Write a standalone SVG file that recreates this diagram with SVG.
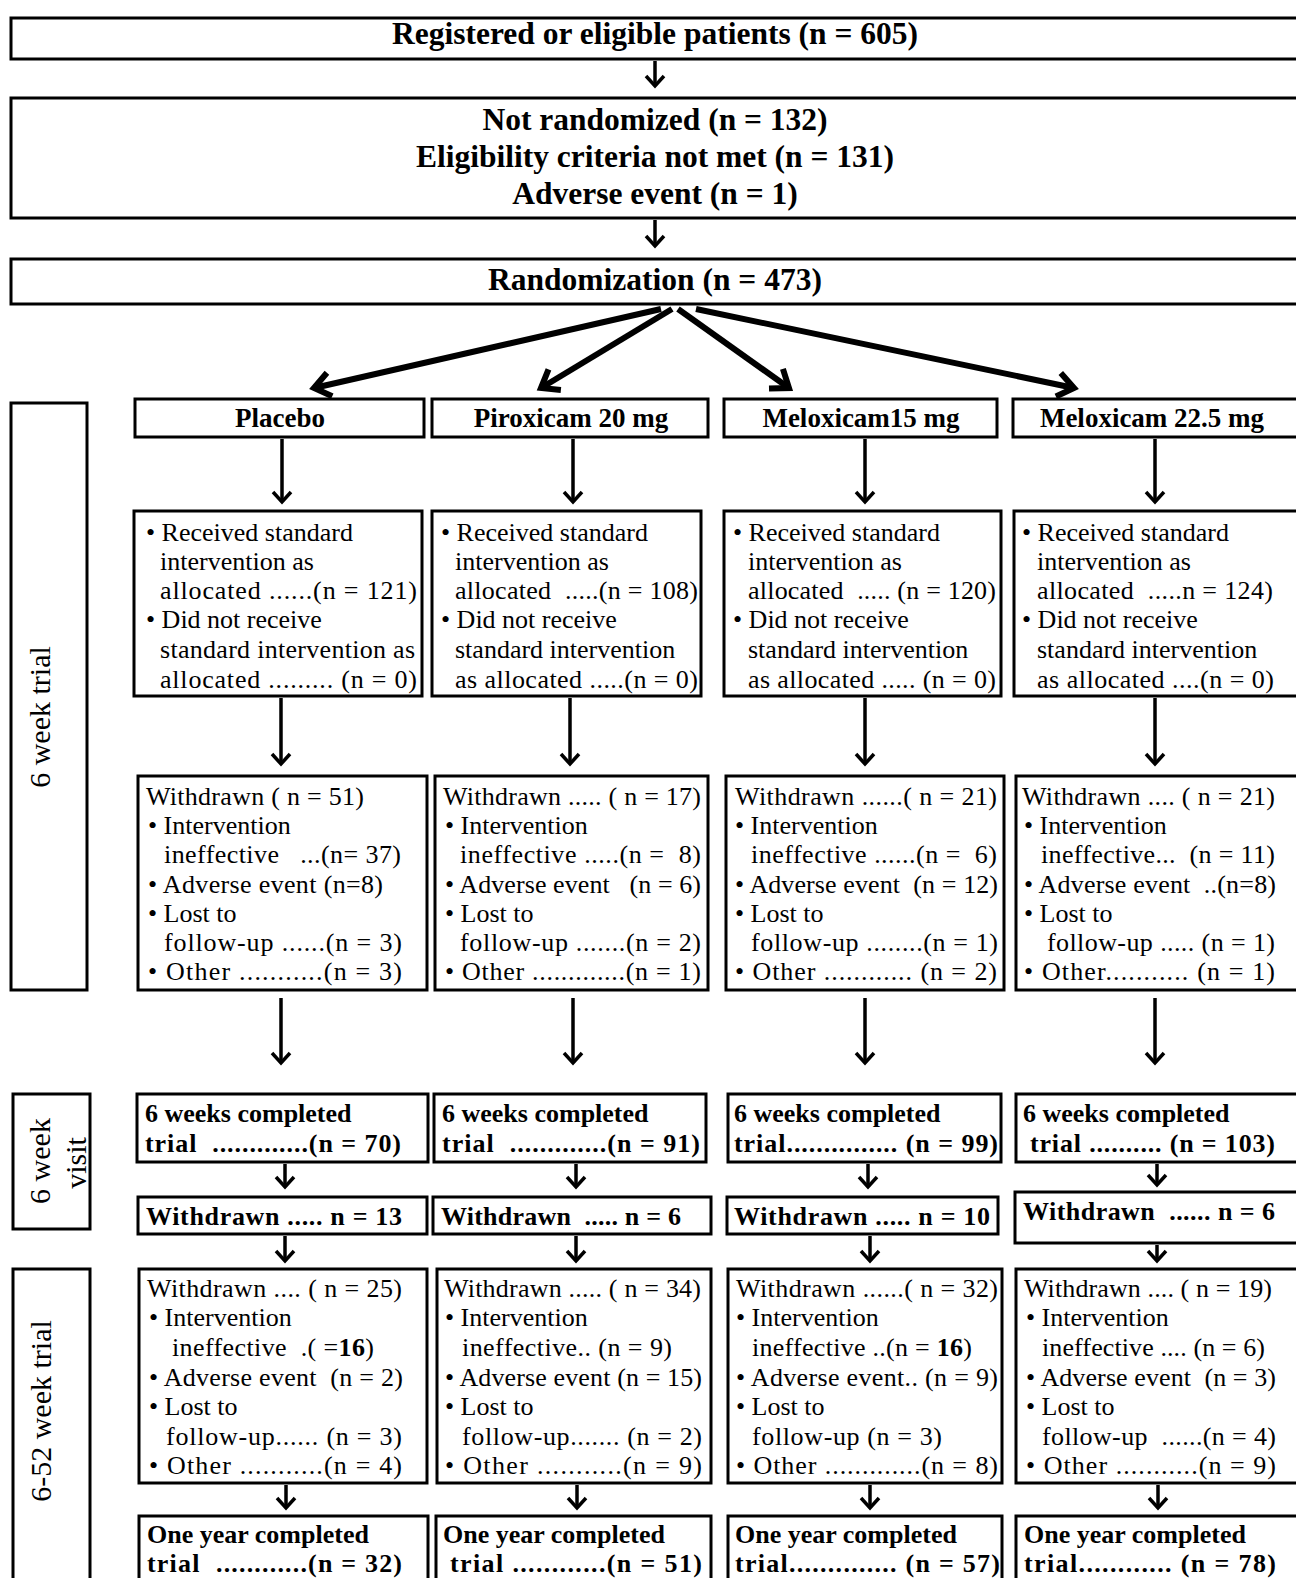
<svg xmlns="http://www.w3.org/2000/svg" width="1296" height="1578" viewBox="0 0 1296 1578">
<style>
.b{fill:#fff;stroke:#000;stroke-width:3}
text{font-family:"Liberation Serif","Times New Roman",serif;fill:#000;white-space:pre}
.r{font-size:26px}
.h{font-size:26px;font-weight:bold}
.hd{font-size:27px;font-weight:bold;text-anchor:middle}
.big{font-size:31.5px;font-weight:bold;text-anchor:middle}
.lab{font-size:30px;text-anchor:middle}
.c{stroke:#000;stroke-width:3.5;fill:none}
.f{stroke:#000;stroke-width:6;fill:none}
</style>
<defs>
<marker id="ah" markerUnits="userSpaceOnUse" viewBox="-14 -12 18 24" markerWidth="18" markerHeight="24" refX="0" refY="0" orient="auto" overflow="visible">
<path d="M-10,-9 L0,0 L-10,9" fill="none" stroke="#000" stroke-width="3.5"/>
</marker>
<marker id="ahb" markerUnits="userSpaceOnUse" viewBox="-20 -16 26 32" markerWidth="26" markerHeight="32" refX="0" refY="0" orient="auto" overflow="visible">
<path d="M-16,-12 L0,0 L-16,12" fill="none" stroke="#000" stroke-width="6"/>
</marker>
</defs>
<rect width="1296" height="1578" fill="#fff"/>

<g id="n-registered">
<rect class="b" x="11" y="18" width="1300" height="41"/>
<text class="big" x="655" y="44">Registered or eligible patients (n = 605)</text>
</g>
<g id="n-notrandomized">
<rect class="b" x="11" y="98" width="1300" height="120"/>
<text class="big" x="655" y="130">Not randomized (n = 132)</text>
<text class="big" x="655" y="167">Eligibility criteria not met (n = 131)</text>
<text class="big" x="655" y="204">Adverse event (n = 1)</text>
</g>
<g id="n-randomization">
<rect class="b" x="11" y="259" width="1300" height="45"/>
<text class="big" x="655" y="290">Randomization (n = 473)</text>
</g>

<g id="label-6wk-trial">
<rect class="b" x="11" y="403" width="76" height="587"/>
<text class="lab" transform="translate(50,717) rotate(-90)">6 week trial</text>
</g>
<g id="label-6wk-visit">
<rect class="b" x="13" y="1094" width="77" height="135"/>
<text class="lab" transform="translate(50,1161) rotate(-90)">6 week</text>
<text class="lab" transform="translate(86,1163) rotate(-90)">visit</text>
</g>
<g id="label-6-52wk-trial">
<rect class="b" x="13" y="1269" width="77" height="330"/>
<text class="lab" transform="translate(51,1411) rotate(-90)">6-52 week trial</text>
</g>

<!-- Placebo column -->
<g id="p-head"><rect class="b" x="135" y="399" width="289" height="38"/><text class="hd" x="280" y="427">Placebo</text></g>
<g id="p-recv"><rect class="b" x="134" y="511" width="288" height="185"/>
<text class="r" x="146" y="541">• Received standard</text>
<text class="r" x="160" y="570">intervention as</text>
<text class="r" x="160" y="599" textLength="257" lengthAdjust="spacing">allocated ......(n = 121)</text>
<text class="r" x="146" y="628">• Did not receive</text>
<text class="r" x="160" y="658" textLength="255" lengthAdjust="spacing">standard intervention as</text>
<text class="r" x="160" y="688" textLength="257" lengthAdjust="spacing">allocated ......... (n = 0)</text>
</g>
<g id="p-wd6"><rect class="b" x="138" y="776" width="289" height="214"/>
<text class="r" x="146" y="805" textLength="218" lengthAdjust="spacing">Withdrawn ( n = 51)</text>
<text class="r" x="148" y="834">• Intervention</text>
<text class="r" x="164" y="863" textLength="237" lengthAdjust="spacing">ineffective   ...(n= 37)</text>
<text class="r" x="148" y="893" textLength="235" lengthAdjust="spacing">• Adverse event (n=8)</text>
<text class="r" x="148" y="922">• Lost to</text>
<text class="r" x="164" y="951" textLength="238" lengthAdjust="spacing">follow-up ......(n = 3)</text>
<text class="r" x="148" y="980" textLength="254" lengthAdjust="spacing">• Other ...........(n = 3)</text>
</g>
<g id="p-comp"><rect class="b" x="137" y="1094" width="291" height="68"/>
<text class="h" x="145" y="1122">6 weeks completed</text>
<text class="h" x="145" y="1152" textLength="256" lengthAdjust="spacing">trial  .............(n = 70)</text>
</g>
<g id="p-wdv"><rect class="b" x="138" y="1197" width="289" height="37"/>
<text class="h" x="146" y="1225" textLength="256" lengthAdjust="spacing">Withdrawn ..... n = 13</text>
</g>
<g id="p-wd52"><rect class="b" x="139" y="1269" width="288" height="214"/>
<text class="r" x="147" y="1297" textLength="255" lengthAdjust="spacing">Withdrawn .... ( n = 25)</text>
<text class="r" x="149" y="1326">• Intervention</text>
<text class="r" x="172" y="1356" textLength="202" lengthAdjust="spacing">ineffective  .( =<tspan font-weight="bold">16</tspan>)</text>
<text class="r" x="149" y="1386" textLength="254" lengthAdjust="spacing">• Adverse event  (n = 2)</text>
<text class="r" x="149" y="1415">• Lost to</text>
<text class="r" x="166" y="1445" textLength="236" lengthAdjust="spacing">follow-up...... (n = 3)</text>
<text class="r" x="149" y="1474" textLength="253" lengthAdjust="spacing">• Other ...........(n = 4)</text>
</g>
<g id="p-1yr"><rect class="b" x="139" y="1516" width="289" height="80"/>
<text class="h" x="147" y="1543">One year completed</text>
<text class="h" x="147" y="1572" textLength="255" lengthAdjust="spacing">trial  ............(n = 32)</text>
</g>

<!-- Piroxicam column -->
<g id="pi-head"><rect class="b" x="432" y="399" width="276" height="38"/><text class="hd" x="571" y="427">Piroxicam 20 mg</text></g>
<g id="pi-recv"><rect class="b" x="432" y="511" width="269" height="185"/>
<text class="r" x="441" y="541">• Received standard</text>
<text class="r" x="455" y="570">intervention as</text>
<text class="r" x="455" y="599" textLength="243" lengthAdjust="spacing">allocated  .....(n = 108)</text>
<text class="r" x="441" y="628">• Did not receive</text>
<text class="r" x="455" y="658">standard intervention</text>
<text class="r" x="455" y="688" textLength="243" lengthAdjust="spacing">as allocated .....(n = 0)</text>
</g>
<g id="pi-wd6"><rect class="b" x="435" y="776" width="273" height="214"/>
<text class="r" x="443" y="805" textLength="258" lengthAdjust="spacing">Withdrawn ..... ( n = 17)</text>
<text class="r" x="445" y="834">• Intervention</text>
<text class="r" x="460" y="863" textLength="241" lengthAdjust="spacing">ineffective .....(n =  8)</text>
<text class="r" x="445" y="893" textLength="256" lengthAdjust="spacing">• Adverse event   (n = 6)</text>
<text class="r" x="445" y="922">• Lost to</text>
<text class="r" x="460" y="951" textLength="241" lengthAdjust="spacing">follow-up .......(n = 2)</text>
<text class="r" x="445" y="980" textLength="256" lengthAdjust="spacing">• Other .............(n = 1)</text>
</g>
<g id="pi-comp"><rect class="b" x="434" y="1094" width="272" height="68"/>
<text class="h" x="442" y="1122">6 weeks completed</text>
<text class="h" x="442" y="1152" textLength="258" lengthAdjust="spacing">trial  .............(n = 91)</text>
</g>
<g id="pi-wdv"><rect class="b" x="433" y="1197" width="278" height="37"/>
<text class="h" x="441" y="1225" textLength="240" lengthAdjust="spacing">Withdrawn  ..... n = 6</text>
</g>
<g id="pi-wd52"><rect class="b" x="437" y="1269" width="274" height="214"/>
<text class="r" x="444" y="1297" textLength="257" lengthAdjust="spacing">Withdrawn ..... ( n = 34)</text>
<text class="r" x="445" y="1326">• Intervention</text>
<text class="r" x="462" y="1356" textLength="210" lengthAdjust="spacing">ineffective.. (n = 9)</text>
<text class="r" x="445" y="1386" textLength="257" lengthAdjust="spacing">• Adverse event (n = 15)</text>
<text class="r" x="445" y="1415">• Lost to</text>
<text class="r" x="462" y="1445" textLength="240" lengthAdjust="spacing">follow-up....... (n = 2)</text>
<text class="r" x="445" y="1474" textLength="257" lengthAdjust="spacing">• Other ...........(n = 9)</text>
</g>
<g id="pi-1yr"><rect class="b" x="436" y="1516" width="275" height="80"/>
<text class="h" x="443" y="1543">One year completed</text>
<text class="h" x="450" y="1572" textLength="252" lengthAdjust="spacing">trial ............(n = 51)</text>
</g>

<!-- Meloxicam 15 mg column -->
<g id="m15-head"><rect class="b" x="724" y="399" width="273" height="38"/><text class="hd" x="861" y="427">Meloxicam15 mg</text></g>
<g id="m15-recv"><rect class="b" x="724" y="511" width="277" height="185"/>
<text class="r" x="733" y="541">• Received standard</text>
<text class="r" x="748" y="570">intervention as</text>
<text class="r" x="748" y="599" textLength="248" lengthAdjust="spacing">allocated  ..... (n = 120)</text>
<text class="r" x="733" y="628">• Did not receive</text>
<text class="r" x="748" y="658">standard intervention</text>
<text class="r" x="748" y="688" textLength="248" lengthAdjust="spacing">as allocated ..... (n = 0)</text>
</g>
<g id="m15-wd6"><rect class="b" x="726" y="776" width="278" height="214"/>
<text class="r" x="735" y="805" textLength="262" lengthAdjust="spacing">Withdrawn ......( n = 21)</text>
<text class="r" x="735" y="834">• Intervention</text>
<text class="r" x="751" y="863" textLength="246" lengthAdjust="spacing">ineffective ......(n =  6)</text>
<text class="r" x="735" y="893" textLength="263" lengthAdjust="spacing">• Adverse event  (n = 12)</text>
<text class="r" x="735" y="922">• Lost to</text>
<text class="r" x="751" y="951" textLength="247" lengthAdjust="spacing">follow-up ........(n = 1)</text>
<text class="r" x="735" y="980" textLength="262" lengthAdjust="spacing">• Other ............ (n = 2)</text>
</g>
<g id="m15-comp"><rect class="b" x="728" y="1094" width="273" height="68"/>
<text class="h" x="734" y="1122">6 weeks completed</text>
<text class="h" x="734" y="1152" textLength="264" lengthAdjust="spacing">trial............... (n = 99)</text>
</g>
<g id="m15-wdv"><rect class="b" x="727" y="1197" width="271" height="37"/>
<text class="h" x="734" y="1225" textLength="256" lengthAdjust="spacing">Withdrawn ..... n = 10</text>
</g>
<g id="m15-wd52"><rect class="b" x="728" y="1269" width="274" height="214"/>
<text class="r" x="736" y="1297" textLength="262" lengthAdjust="spacing">Withdrawn ......( n = 32)</text>
<text class="r" x="736" y="1326">• Intervention</text>
<text class="r" x="752" y="1356" textLength="220" lengthAdjust="spacing">ineffective ..(n = <tspan font-weight="bold">16</tspan>)</text>
<text class="r" x="736" y="1386" textLength="262" lengthAdjust="spacing">• Adverse event.. (n = 9)</text>
<text class="r" x="736" y="1415">• Lost to</text>
<text class="r" x="752" y="1445" textLength="190" lengthAdjust="spacing">follow-up (n = 3)</text>
<text class="r" x="736" y="1474" textLength="262" lengthAdjust="spacing">• Other .............(n = 8)</text>
</g>
<g id="m15-1yr"><rect class="b" x="728" y="1516" width="274" height="80"/>
<text class="h" x="735" y="1543">One year completed</text>
<text class="h" x="735" y="1572" textLength="265" lengthAdjust="spacing">trial.............. (n = 57)</text>
</g>

<!-- Meloxicam 22.5 mg column -->
<g id="m22-head"><rect class="b" x="1013" y="399" width="300" height="38"/><text class="hd" x="1152" y="427">Meloxicam 22.5 mg</text></g>
<g id="m22-recv"><rect class="b" x="1014" y="511" width="300" height="185"/>
<text class="r" x="1022" y="541">• Received standard</text>
<text class="r" x="1037" y="570">intervention as</text>
<text class="r" x="1037" y="599" textLength="236" lengthAdjust="spacing">allocated  .....n = 124)</text>
<text class="r" x="1022" y="628">• Did not receive</text>
<text class="r" x="1037" y="658">standard intervention</text>
<text class="r" x="1037" y="688" textLength="237" lengthAdjust="spacing">as allocated ....(n = 0)</text>
</g>
<g id="m22-wd6"><rect class="b" x="1016" y="776" width="300" height="214"/>
<text class="r" x="1022" y="805" textLength="253" lengthAdjust="spacing">Withdrawn .... ( n = 21)</text>
<text class="r" x="1024" y="834">• Intervention</text>
<text class="r" x="1041" y="863" textLength="234" lengthAdjust="spacing">ineffective...  (n = 11)</text>
<text class="r" x="1024" y="893" textLength="252" lengthAdjust="spacing">• Adverse event  ..(n=8)</text>
<text class="r" x="1024" y="922">• Lost to</text>
<text class="r" x="1047" y="951" textLength="228" lengthAdjust="spacing">follow-up ..... (n = 1)</text>
<text class="r" x="1024" y="980" textLength="251" lengthAdjust="spacing">• Other........... (n = 1)</text>
</g>
<g id="m22-comp"><rect class="b" x="1016" y="1094" width="300" height="68"/>
<text class="h" x="1023" y="1122">6 weeks completed</text>
<text class="h" x="1030" y="1152" textLength="245" lengthAdjust="spacing">trial .......... (n = 103)</text>
</g>
<g id="m22-wdv"><rect class="b" x="1015" y="1192" width="300" height="51"/>
<text class="h" x="1023" y="1220" textLength="252" lengthAdjust="spacing">Withdrawn  ...... n = 6</text>
</g>
<g id="m22-wd52"><rect class="b" x="1016" y="1269" width="300" height="214"/>
<text class="r" x="1024" y="1297" textLength="248" lengthAdjust="spacing">Withdrawn .... ( n = 19)</text>
<text class="r" x="1026" y="1326">• Intervention</text>
<text class="r" x="1042" y="1356" textLength="223" lengthAdjust="spacing">ineffective .... (n = 6)</text>
<text class="r" x="1026" y="1386" textLength="250" lengthAdjust="spacing">• Adverse event  (n = 3)</text>
<text class="r" x="1026" y="1415">• Lost to</text>
<text class="r" x="1042" y="1445" textLength="234" lengthAdjust="spacing">follow-up  ......(n = 4)</text>
<text class="r" x="1026" y="1474" textLength="250" lengthAdjust="spacing">• Other ...........(n = 9)</text>
</g>
<g id="m22-1yr"><rect class="b" x="1016" y="1516" width="300" height="80"/>
<text class="h" x="1024" y="1543">One year completed</text>
<text class="h" x="1024" y="1572" textLength="252" lengthAdjust="spacing">trial............ (n = 78)</text>
</g>

<g id="connectors">
<line class="c" x1="655" y1="61" x2="655" y2="86" marker-end="url(#ah)"/>
<line class="c" x1="655" y1="220" x2="655" y2="246" marker-end="url(#ah)"/>
<line class="f" x1="661" y1="309" x2="314" y2="388" marker-end="url(#ahb)"/>
<line class="f" x1="672" y1="309" x2="541" y2="388" marker-end="url(#ahb)"/>
<line class="f" x1="678" y1="309" x2="789" y2="388" marker-end="url(#ahb)"/>
<line class="f" x1="696" y1="309" x2="1074" y2="388" marker-end="url(#ahb)"/>

<line class="c" x1="282" y1="439" x2="282" y2="502" marker-end="url(#ah)"/>
<line class="c" x1="573" y1="439" x2="573" y2="502" marker-end="url(#ah)"/>
<line class="c" x1="865" y1="439" x2="865" y2="502" marker-end="url(#ah)"/>
<line class="c" x1="1155" y1="439" x2="1155" y2="502" marker-end="url(#ah)"/>

<line class="c" x1="281" y1="698" x2="281" y2="764" marker-end="url(#ah)"/>
<line class="c" x1="570" y1="698" x2="570" y2="764" marker-end="url(#ah)"/>
<line class="c" x1="865" y1="698" x2="865" y2="764" marker-end="url(#ah)"/>
<line class="c" x1="1155" y1="698" x2="1155" y2="764" marker-end="url(#ah)"/>

<line class="c" x1="281" y1="998" x2="281" y2="1063" marker-end="url(#ah)"/>
<line class="c" x1="573" y1="998" x2="573" y2="1063" marker-end="url(#ah)"/>
<line class="c" x1="865" y1="998" x2="865" y2="1063" marker-end="url(#ah)"/>
<line class="c" x1="1155" y1="998" x2="1155" y2="1063" marker-end="url(#ah)"/>

<line class="c" x1="285" y1="1164" x2="285" y2="1187" marker-end="url(#ah)"/>
<line class="c" x1="576" y1="1164" x2="576" y2="1187" marker-end="url(#ah)"/>
<line class="c" x1="868" y1="1164" x2="868" y2="1187" marker-end="url(#ah)"/>
<line class="c" x1="1157" y1="1164" x2="1157" y2="1185" marker-end="url(#ah)"/>

<line class="c" x1="285" y1="1236" x2="285" y2="1261" marker-end="url(#ah)"/>
<line class="c" x1="576" y1="1236" x2="576" y2="1261" marker-end="url(#ah)"/>
<line class="c" x1="870" y1="1236" x2="870" y2="1261" marker-end="url(#ah)"/>
<line class="c" x1="1157" y1="1245" x2="1157" y2="1261" marker-end="url(#ah)"/>

<line class="c" x1="286" y1="1485" x2="286" y2="1508" marker-end="url(#ah)"/>
<line class="c" x1="577" y1="1485" x2="577" y2="1508" marker-end="url(#ah)"/>
<line class="c" x1="870" y1="1485" x2="870" y2="1508" marker-end="url(#ah)"/>
<line class="c" x1="1158" y1="1485" x2="1158" y2="1508" marker-end="url(#ah)"/>
</g>
</svg>
